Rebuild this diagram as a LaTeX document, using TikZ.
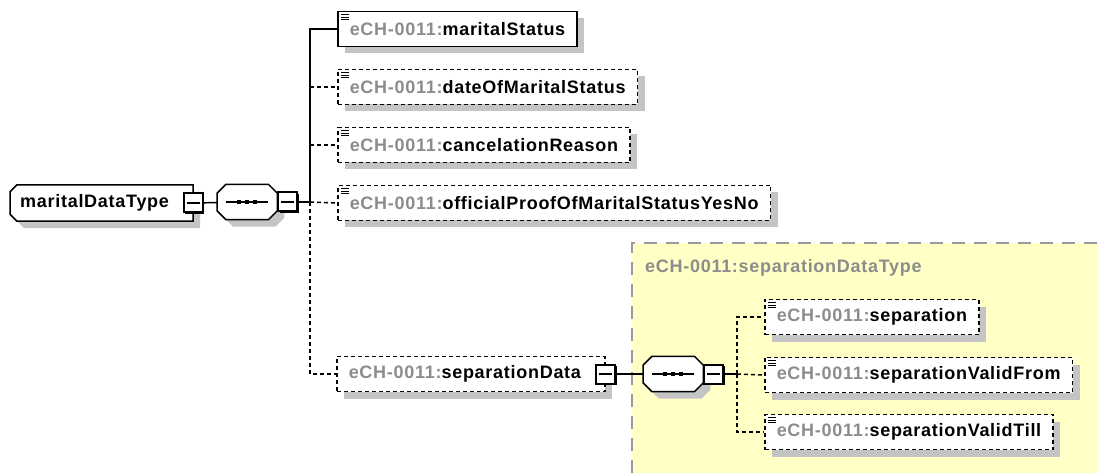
\documentclass[tikz,border=0pt]{standalone}
\usepackage{fontspec}
\setmainfont{Liberation Sans}
\newfontfamily\xsdfont{Liberation Sans}[LetterSpace=4.0]
\usetikzlibrary{positioning, shadows}

\definecolor{prefixgray}{HTML}{8C8C8C}
\definecolor{shadowgray}{HTML}{C4C4C4}
\definecolor{groupyellow}{HTML}{FFFFC6}
\definecolor{groupborder}{HTML}{9A9A9A}

\newcommand{\ech}{\textcolor{prefixgray}{eCH-0011:}}

% sequence compositor: octagon with shadow, line and three dots
\newcommand{\drawseq}[1]{%
  \fill[shadowgray, transform canvas={shift={(7pt,-7pt)}}]
    ([xshift=9pt]#1.north west) -- ([xshift=-9pt]#1.north east) -- ([yshift=-9pt]#1.north east)
    -- ([yshift=9pt]#1.south east) -- ([xshift=-9pt]#1.south east) -- ([xshift=9pt]#1.south west)
    -- ([yshift=9pt]#1.south west) -- ([yshift=-9pt]#1.north west) -- cycle;
  \draw[octo]
    ([xshift=9pt]#1.north west) -- ([xshift=-9pt]#1.north east) -- ([yshift=-9pt]#1.north east)
    -- ([yshift=9pt]#1.south east) -- ([xshift=-9pt]#1.south east) -- ([xshift=9pt]#1.south west)
    -- ([yshift=9pt]#1.south west) -- ([yshift=-9pt]#1.north west) -- cycle;
  \draw[line width=1.4pt] ([xshift=9pt]#1.west) -- ([xshift=-9pt]#1.east);
  \foreach \dx in {-8,0,8}
    \fill ([xshift=\dx pt]#1.center) +(-2.2pt,-2.2pt) rectangle +(2.2pt,2.2pt);
}

\tikzset{
  xsd/.style={font=\xsdfont\fontsize{18}{22}\selectfont\bfseries},
  boxshadow/.style={general shadow={fill=shadowgray, draw=none, shadow xshift=7pt, shadow yshift=-7pt}},
  octo/.style={draw, fill=white, line width=1.5pt},
  elem/.style={draw, fill=white, rectangle, anchor=west, minimum height=35pt,
    inner xsep=12pt, inner ysep=0pt, line width=1.5pt, xsd, boxshadow,
    path picture={
      \draw[line width=0.9pt, solid] ([xshift=3pt, yshift=-3pt]path picture bounding box.north west) -- ++(8pt,0pt)
        ([xshift=3pt, yshift=-5.5pt]path picture bounding box.north west) -- ++(8pt,0pt)
        ([xshift=3pt, yshift=-8pt]path picture bounding box.north west) -- ++(8pt,0pt);
    }},
  optelem/.style={elem, dash pattern=on 4pt off 3pt},
  seqnode/.style={anchor=west, minimum width=60pt, minimum height=35pt, inner sep=0pt},
  minusbox/.style={draw, fill=white, line width=2pt, minimum size=19pt, inner sep=0pt,
    general shadow={fill=black, shadow xshift=1.5pt, shadow yshift=-1.5pt},
    path picture={
      \draw[line width=1.2pt] ([xshift=3pt]path picture bounding box.west) -- ([xshift=-3pt]path picture bounding box.east);
    }},
  link/.style={line width=1.5pt},
  optlink/.style={line width=1.5pt, dash pattern=on 4pt off 3pt},
}

\begin{document}
\begin{tikzpicture}[x=1pt, y=-1pt]
  \useasboundingbox (0,0) rectangle (1098,473);

  % group of the separation type
  \fill[groupyellow] (632,243) rectangle (1098,473);
  \draw[groupborder, line width=1.8pt, dash pattern=on 13pt off 9pt] (632,473) -- (632,243) -- (1098,243);
  \node[anchor=west, text=prefixgray, xsd, inner sep=0pt] (grptitle) at (645,268) {eCH-0011:separationDataType};

  % root type
  \node[anchor=west, minimum height=36pt, inner xsep=10pt, inner ysep=0pt, xsd] (mdt) at (10,203) {maritalDataType\hspace*{14pt}};
  \fill[shadowgray, transform canvas={shift={(7pt,-7pt)}}] ([xshift=7pt]mdt.north west) -- (mdt.north east) -- (mdt.south east)
    -- ([xshift=7pt]mdt.south west) -- ([yshift=7pt]mdt.south west) -- ([yshift=-7pt]mdt.north west) -- cycle;
  \draw[octo] ([xshift=7pt]mdt.north west) -- (mdt.north east) -- (mdt.south east)
    -- ([xshift=7pt]mdt.south west) -- ([yshift=7pt]mdt.south west) -- ([yshift=-7pt]mdt.north west) -- cycle;
  \node[xsd, anchor=west, inner xsep=10pt, inner ysep=0pt] at (mdt.west) {maritalDataType};
  \node[minusbox] (mdtminus) at (mdt.east) {};

  % main sequence
  \node[seqnode] (seqA) at (217,202) {};
  \drawseq{seqA}
  \node[minusbox, anchor=west] (seqAminus) at (seqA.east) {};
  \coordinate (trunkA) at (310,202);

  \node[elem] (ms) at (337,29) {\ech maritalStatus};
  \node[optelem] (dom) at (337,87) {\ech dateOfMaritalStatus};
  \node[optelem] (cr) at (337,145) {\ech cancelationReason};
  \node[optelem] (op) at (337,203) {\ech officialProofOfMaritalStatusYesNo};
  \node[optelem, path picture={}] (sd) at (336,374) {\ech separationData\hspace*{12pt}};
  \node[minusbox] (sdminus) at (sd.east) {};

  \draw[link] (mdtminus) -- (seqA);
  \draw[link] (seqAminus.east) -- (trunkA) |- (ms.west);
  \draw[optlink] (trunkA |- dom.west) -- (dom.west);
  \draw[optlink] (trunkA |- cr.west) -- (cr.west);
  \draw[optlink] (trunkA) -- (op.west);
  \draw[optlink] (trunkA) |- (sd.west);

  % sequence of the separation
  \node[seqnode] (seqB) at (643,374) {};
  \drawseq{seqB}
  \node[minusbox, anchor=west] (seqBminus) at (seqB.east) {};
  \coordinate (trunkB) at (737,374);

  \node[optelem] (sep) at (764,317) {\ech separation};
  \node[optelem] (svf) at (764,375) {\ech separationValidFrom};
  \node[optelem] (svt) at (764,432) {\ech separationValidTill};

  \draw[link] (sdminus) -- (seqB);
  \draw[link] (seqBminus.east) -- (trunkB);
  \draw[optlink] (trunkB) |- (sep.west);
  \draw[optlink] (trunkB) -- (svf.west);
  \draw[optlink] (trunkB) |- (svt.west);
\end{tikzpicture}
\end{document}
